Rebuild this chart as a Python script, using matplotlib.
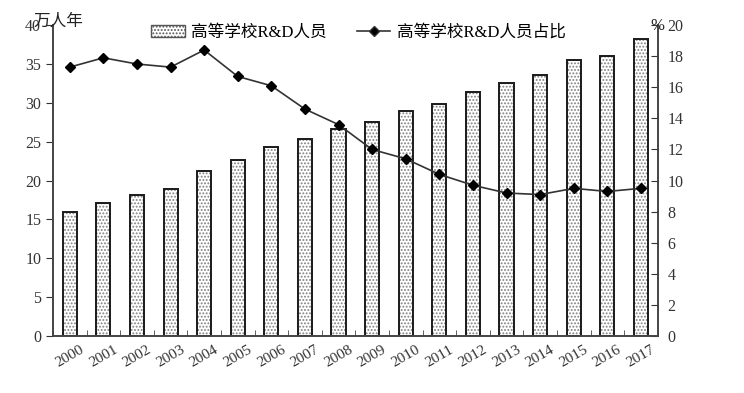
import matplotlib
matplotlib.use('Agg')
import matplotlib.pyplot as plt
import numpy as np
from matplotlib.patches import Patch
from matplotlib.lines import Line2D

years = ['2000', '2001', '2002', '2003', '2004', '2005', '2006', '2007', '2008',
         '2009', '2010', '2011', '2012', '2013', '2014', '2015', '2016', '2017']
staff = [15.9, 17.1, 18.1, 18.9, 21.2, 22.6, 24.3, 25.3, 26.6,
         27.5, 29.0, 29.9, 31.4, 32.5, 33.6, 35.5, 36.0, 38.2]
share = [17.3, 17.9, 17.5, 17.3, 18.4, 16.7, 16.1, 14.6, 13.6,
         12.0, 11.4, 10.4, 9.7, 9.2, 9.1, 9.5, 9.3, 9.5]

bar_label = '高等学校R&D人员'
line_label = '高等学校R&D人员占比'

fam = ['Liberation Serif', 'Noto Sans CJK SC']
plt.rcParams['font.family'] = fam
plt.rcParams['hatch.linewidth'] = 0.9

fig = plt.figure(figsize=(7.44, 3.93), dpi=100)
ax = fig.add_axes([0.0712, 0.145, 0.8128, 0.791])
ax2 = ax.twinx()

x = np.arange(len(years))
# dotted fill first, then the dark outline on top
ax.bar(x, staff, width=0.42, color='white', edgecolor='#808080', hatch='.....', linewidth=0)
ax.bar(x, staff, width=0.42, fill=False, edgecolor='#1a1a1a', linewidth=1.4)

ax2.plot(x, share, color='#333333', lw=1.2, marker='D', markersize=5.5,
         markerfacecolor='black', markeredgecolor='black')

ax.set_xlim(-0.5, len(years) - 0.5)
ax.set_ylim(0, 40)
ax2.set_ylim(0, 20)
ax.set_yticks(range(0, 41, 5))
ax2.set_yticks(range(0, 21, 2))

ax.set_xticks(x)
ax.set_xticklabels(years, rotation=30, fontsize=11, color='#333333')
ax.tick_params(axis='x', length=0, pad=5)
ax.set_xticks(np.arange(-0.5, len(years), 1), minor=True)
ax.tick_params(axis='x', which='minor', direction='in', length=4, color='#444444')
ax.tick_params(axis='y', direction='out', length=5, labelsize=11.5, colors='#333333')
ax2.tick_params(axis='y', direction='in', length=5, pad=7, labelsize=11.5, colors='#333333')

for a in (ax, ax2):
    a.spines['top'].set_visible(False)
    for s in ('left', 'right', 'bottom'):
        a.spines[s].set_color('#444444')
        a.spines[s].set_linewidth(1.2)

fig.text(0.045, 0.944, '万人年', fontsize=12, family=fam, color='#222222', va='center')
fig.text(0.874, 0.935, '%', fontsize=12, color='#222222', va='center')

handles = [Patch(facecolor='white', edgecolor='#555555', hatch='.....', linewidth=1.0),
           Line2D([0], [0], color='#333333', lw=1.2, marker='D', markersize=5.5,
                  markerfacecolor='black')]
fig.legend(handles, [bar_label, line_label], loc='center', bbox_to_anchor=(0.482, 0.917),
           ncol=2, frameon=False, fontsize=12, handlelength=2.0, columnspacing=1.8,
           handletextpad=0.4)

fig.savefig('out.png', dpi=100)
